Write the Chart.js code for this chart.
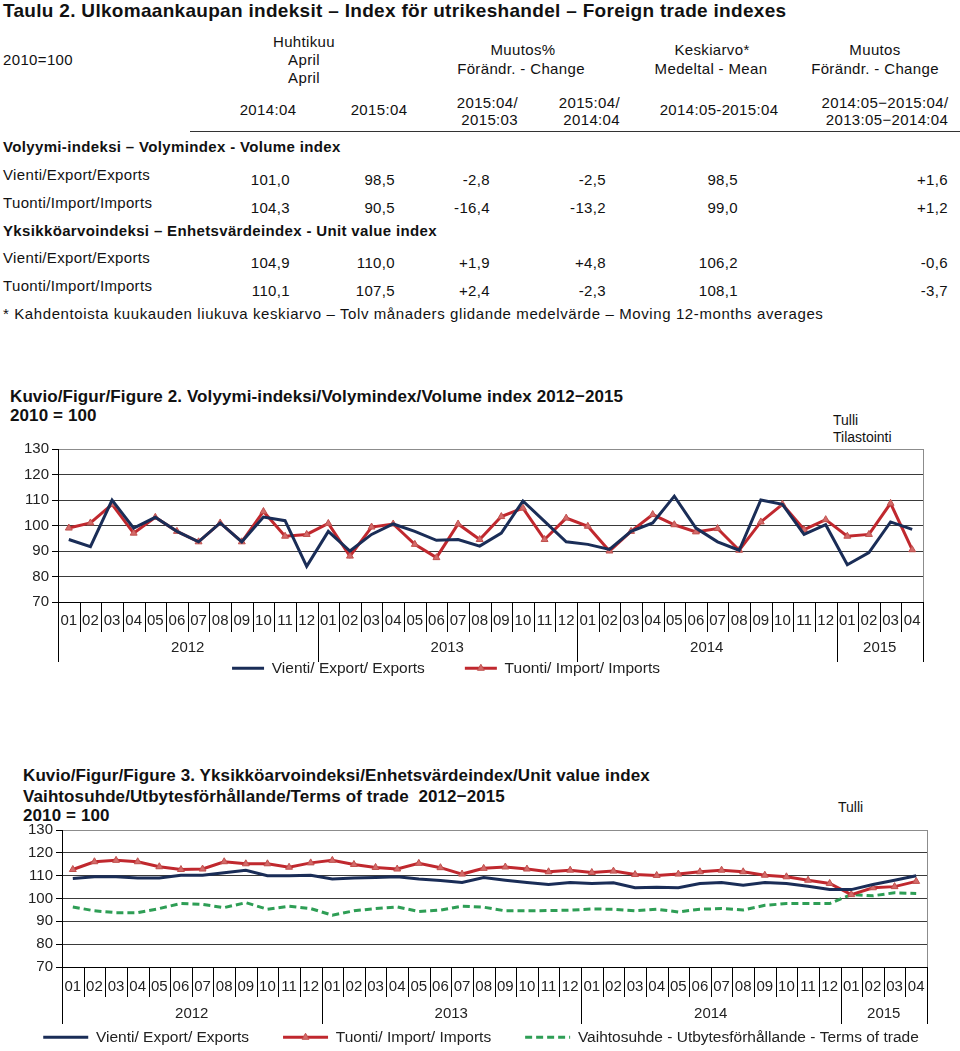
<!DOCTYPE html>
<html>
<head>
<meta charset="utf-8">
<script src="https://cdn.jsdelivr.net/npm/chart.js@4.4.0/dist/chart.umd.min.js"></script>
<style>
body { margin:0; width:960px; height:1051px; position:relative; overflow:hidden; background:#fff;
       font-family:"Liberation Sans", Arial, sans-serif; color:#111; }
.t { position:absolute; white-space:nowrap; font-size:15px; line-height:17px; letter-spacing:0.35px; }
.c { transform:translateX(-50%); text-align:center; }
.r { transform:translateX(-100%); }
.b { font-weight:bold; }
.ft { font-size:17px; line-height:19px; font-weight:bold; letter-spacing:0.1px; }
.tl { font-size:14px; letter-spacing:0; }
canvas { position:absolute; left:0; }
</style>
</head>
<body>

<!-- Table -->
<div class="t b" style="left:3px;top:1px;font-size:19px;line-height:20px;letter-spacing:0.3px">Taulu 2. Ulkomaankaupan indeksit – Index för utrikeshandel – Foreign trade indexes</div>
<div class="t" style="left:3px;top:51px">2010=100</div>
<div class="t c" style="left:304px;top:33px">Huhtikuu</div>
<div class="t c" style="left:304px;top:51px">April</div>
<div class="t c" style="left:304px;top:69px">April</div>
<div class="t c" style="left:268px;top:101px">2014:04</div>
<div class="t c" style="left:379px;top:101px">2015:04</div>
<div class="t c" style="left:523px;top:41px">Muutos%</div>
<div class="t c" style="left:521px;top:60px">Förändr. - Change</div>
<div class="t r" style="left:518px;top:94px">2015:04/</div>
<div class="t r" style="left:518px;top:111px">2015:03</div>
<div class="t r" style="left:620px;top:94px">2015:04/</div>
<div class="t r" style="left:620px;top:111px">2014:04</div>
<div class="t c" style="left:712px;top:41px">Keskiarvo*</div>
<div class="t c" style="left:711px;top:60px">Medeltal - Mean</div>
<div class="t c" style="left:719px;top:101px">2014:05-2015:04</div>
<div class="t c" style="left:875px;top:41px">Muutos</div>
<div class="t c" style="left:875px;top:60px">Förändr. - Change</div>
<div class="t c" style="left:885px;top:94px">2014:05−2015:04/</div>
<div class="t c" style="left:887px;top:111px">2013:05−2014:04</div>
<div style="position:absolute;left:190px;top:131px;width:770px;height:1px;background:#333"></div>
<div class="t b" style="left:3px;top:138px">Volyymi-indeksi – Volymindex - Volume index</div>
<div id="rows"></div>
<div class="t b" style="left:3px;top:222px">Yksikköarvoindeksi – Enhetsvärdeindex - Unit value index</div>
<div class="t" style="left:3px;top:305px;letter-spacing:0.6px">* Kahdentoista kuukauden liukuva keskiarvo – Tolv månaders glidande medelvärde – Moving 12-months averages</div>

<!-- Figure 2 -->
<div class="t ft" style="left:10px;top:387px">Kuvio/Figur/Figure 2. Volyymi-indeksi/Volymindex/Volume index 2012−2015</div>
<div class="t ft" style="left:10px;top:406px">2010 = 100</div>
<div class="t tl" style="left:833px;top:412px">Tulli</div>
<div class="t tl" style="left:833px;top:429px">Tilastointi</div>
<canvas id="fig2" width="960" height="249" style="top:437px"></canvas>

<!-- Figure 3 -->
<div class="t ft" style="left:23px;top:766px">Kuvio/Figur/Figure 3. Yksikköarvoindeksi/Enhetsvärdeindex/Unit value index</div>
<div class="t ft" style="left:23px;top:787px">Vaihtosuhde/Utbytesförhållande/Terms of trade&nbsp; 2012−2015</div>
<div class="t ft" style="left:23px;top:806px">2010 = 100</div>
<div class="t tl" style="left:838px;top:799px">Tulli</div>
<canvas id="fig3" width="960" height="237" style="top:818px"></canvas>

<script>
// Table values
const tableRows = [
    ['Vienti/Export/Exports', '101,0', '98,5', '-2,8', '-2,5', '98,5', '+1,6'],
    ['Tuonti/Import/Imports', '104,3', '90,5', '-16,4', '-13,2', '99,0', '+1,2'],
    ['Vienti/Export/Exports', '104,9', '110,0', '+1,9', '+4,8', '106,2', '-0,6'],
    ['Tuonti/Import/Imports', '110,1', '107,5', '+2,4', '-2,3', '108,1', '-3,7']
];
const rowLabelY = [166, 194, 249, 277];
const colRight = [290, 395, 490, 606, 738, 948];

// Chart categories
const years = ['2012', '2013', '2014', '2015'];
const monthsInYear = [12, 12, 12, 4];

// Volume index
const volExport = [94.5, 91.7, 110, 99, 103.2, 97.7, 93.6, 101, 93.6, 103.3, 101.9, 84,
    97.7, 90, 96.5, 100.6, 97.7, 94.2, 94.5, 91.9, 97, 109.6, 101.6, 93.6,
    92.6, 90.6, 97.7, 101, 111.5, 99, 93.6, 90.3, 110, 108.3, 96.5, 100.3,
    84.6, 89.4, 101.4, 98.5];
const volImport = [99, 101, 108.3, 97, 103.2, 97.7, 93.6, 101, 93.6, 105.5, 95.8, 96.5,
    100.8, 88, 99.4, 100.6, 92.6, 87.4, 100.6, 94.5, 103.5, 106.8, 94.5, 102.9,
    99.7, 90, 97.7, 104.3, 100.3, 97.5, 98.8, 90.3, 101.4, 108.3, 98.4, 102.3,
    95.8, 96.5, 108.7, 90.5];

// Unit value index and terms of trade
const uvExport = [108.8, 109.5, 109.5, 109, 109, 110.2, 110.2, 111.3, 112.4, 110, 110, 110.2,
    108.5, 109, 109.2, 109.5, 108.5, 107.9, 107, 109.2, 108, 107, 106.1, 107,
    106.6, 106.9, 104.7, 104.9, 104.7, 106.6, 107, 105.8, 107, 106.6, 105.4, 103.9,
    103.9, 106.1, 108, 110];
const uvImport = [112.7, 116.1, 116.7, 116.1, 113.9, 112.7, 112.9, 116.1, 115.2, 115.2, 113.7, 115.6,
    116.7, 114.9, 113.6, 112.9, 115.4, 113.5, 110.7, 113.2, 113.8, 112.9, 111.7, 112.4,
    111.4, 112, 110.5, 110.1, 110.7, 111.7, 112.4, 111.7, 110.2, 109.5, 108, 106.6,
    101.7, 104.7, 105.2, 107.5];
const termsOfTrade = [96.3, 94.6, 93.8, 93.8, 95.6, 97.8, 97.4, 96, 98.2, 95.3, 96.6, 95.6,
    92.7, 94.6, 95.6, 96.3, 94.3, 94.9, 96.6, 96.2, 94.6, 94.6, 94.7, 94.9,
    95.4, 95.3, 94.6, 95.3, 94.1, 95.3, 95.6, 95, 97, 97.8, 97.8, 97.8,
    101.7, 101.2, 102.5, 102.2];

const yTicks = [70, 80, 90, 100, 110, 120, 130];

const NAVY = '#1a2d57';
const RED = '#c0282e';
const GREEN = '#2e9e55';

// Build month labels 01..12 per year
const monthLabels = [];
years.forEach((y, k) => {
    for (let m = 1; m <= monthsInYear[k]; m++) {
        monthLabels.push(String(m).padStart(2, '0'));
    }
});

/**
 * Render table rows
 */
function buildTable() {
    const box = document.getElementById('rows');
    tableRows.forEach((row, i) => {
        const ly = rowLabelY[i];
        box.insertAdjacentHTML('beforeend', `<div class="t" style="left:3px;top:${ly}px">${row[0]}</div>`);
        row.slice(1).forEach((v, j) => {
            box.insertAdjacentHTML('beforeend',
                `<div class="t r" style="left:${colRight[j]}px;top:${ly + 5}px">${v}</div>`);
        });
    });
}
buildTable();

Chart.defaults.font.family = '"Liberation Sans", Arial, sans-serif';
Chart.defaults.color = '#222';

/**
 * Month separators, year row, right border, legend placement
 */
const monthAxisPlugin = {
    id: 'monthAxis',
    afterLayout(chart, args, opts) {
        // the month labels sit partly over the legend box; give them room so they are not clipped
        const xs = chart.scales.x;
        xs.bottom = Math.max(xs.bottom, xs.top + 34);

        // move legend so its items are centred where the original has them
        const lg = chart.legend;
        if (!lg || !lg.lineWidths) return;
        const pad = lg.options.labels.padding;
        const content = lg.lineWidths[0] - pad;
        const start = (lg.left + pad + lg.right - lg.lineWidths[0]) / 2;
        const dx = (opts.legendCenter - content / 2) - start;
        lg.left += dx;
        lg.right += dx;
    },
    afterDraw(chart, args, opts) {
        const x = chart.scales.x;
        const area = chart.chartArea;
        const ctx = chart.ctx;
        const base = area.bottom;
        ctx.save();
        // right border
        ctx.strokeStyle = '#8c8c8c';
        ctx.lineWidth = 1;
        ctx.beginPath();
        ctx.moveTo(Math.round(area.right) + 0.5, area.top);
        ctx.lineTo(Math.round(area.right) + 0.5, area.bottom);
        ctx.stroke();

        ctx.strokeStyle = '#000';
        const yearStarts = [];
        let s = 0;
        monthsInYear.forEach(n => { yearStarts.push(s); s += n; });
        for (let i = 0; i <= monthLabels.length; i++) {
            const px = Math.round(x.getPixelForValue(i - 0.5)) + 0.5;
            const isYear = i === monthLabels.length || yearStarts.includes(i);
            ctx.beginPath();
            ctx.moveTo(px, base);
            ctx.lineTo(px, base + (isYear ? opts.long : opts.short));
            ctx.stroke();
        }
        ctx.fillStyle = '#222';
        ctx.font = '15px "Liberation Sans", Arial, sans-serif';
        ctx.textAlign = 'center';
        ctx.textBaseline = 'middle';
        years.forEach((yr, k) => {
            const a = x.getPixelForValue(yearStarts[k] - 0.5);
            const b = x.getPixelForValue(yearStarts[k] + monthsInYear[k] - 0.5);
            ctx.fillText(yr, (a + b) / 2, base + opts.yearY);
        });

        // triangle marker on the import legend line
        const lg = chart.legend;
        lg.legendItems.forEach((item, i) => {
            const ds = chart.data.datasets[item.datasetIndex];
            if (ds.pointStyle !== 'triangle') return;
            const hb = lg.legendHitBoxes[i];
            const size = lg.options.labels.font.size;
            ctx.fillStyle = ds.pointBackgroundColor;
            ctx.strokeStyle = ds.pointBorderColor;
            ctx.lineWidth = 1;
            Chart.helpers.drawPoint(ctx, { pointStyle: 'triangle', radius: 4, borderWidth: 1 },
                hb.left + lg.options.labels.pointStyleWidth / 2, hb.top + size / 2);
        });
        ctx.restore();
    }
};

function legendLabels(chart) {
    const items = Chart.defaults.plugins.legend.labels.generateLabels(chart);
    items.forEach(it => {
        const ds = chart.data.datasets[it.datasetIndex];
        it.pointStyle = 'line';
        it.lineWidth = ds.borderWidth;
        it.strokeStyle = ds.borderColor;
        it.lineDash = ds.borderDash || [];
    });
    return items;
}

function makeChart(id, datasets, cfg) {
    return new Chart(document.getElementById(id), {
        type: 'line',
        data: { labels: monthLabels, datasets: datasets },
        options: {
            responsive: false,
            animation: false,
            layout: { padding: { top: 10, right: 0, left: 0, bottom: 0 } },
            plugins: {
                legend: {
                    position: 'bottom',
                    labels: {
                        color: '#222',
                        font: { size: 15.5 },
                        usePointStyle: true,
                        pointStyleWidth: cfg.legendLine,
                        padding: cfg.legendGap,
                        generateLabels: legendLabels
                    }
                },
                tooltip: { enabled: false },
                monthAxis: cfg.axis
            },
            scales: {
                x: {
                    offset: true,
                    grid: { display: false, drawTicks: false },
                    border: { color: '#000' },
                    ticks: { font: { size: 15 }, color: '#222', padding: cfg.labelPad, maxRotation: 0, autoSkip: false },
                    afterFit(s) { s.height = cfg.xHeight; }
                },
                y: {
                    min: 70,
                    max: 130,
                    afterBuildTicks(s) { s.ticks = yTicks.map(v => ({ value: v })); },
                    ticks: { font: { size: 15 }, color: '#222', padding: 3 },
                    grid: {
                        color: c => (c.tick && c.tick.value === 130 ? '#8c8c8c' : '#3a3a3a'),
                        tickColor: '#000',
                        tickLength: 6
                    },
                    border: { color: '#000' },
                    afterFit(s) { s.width = cfg.yWidth; }
                },
                // empty right-hand strip, keeps the legend free to use the full width
                yRight: {
                    position: 'right',
                    grid: { display: false, drawTicks: false },
                    border: { display: false },
                    ticks: { display: false },
                    afterFit(s) { s.width = cfg.padRight; }
                }
            }
        },
        plugins: [monthAxisPlugin]
    });
}

const exportStyle = { borderColor: NAVY, backgroundColor: NAVY, borderWidth: 3, pointRadius: 0, tension: 0 };
const importStyle = {
    borderColor: RED, backgroundColor: RED, borderWidth: 3, tension: 0,
    pointStyle: 'triangle', pointRadius: 4, pointBackgroundColor: '#d46a6a', pointBorderColor: '#c0504d', pointBorderWidth: 1
};

makeChart('fig2', [
    Object.assign({ label: 'Vienti/ Export/ Exports', data: volExport }, exportStyle),
    Object.assign({ label: 'Tuonti/ Import/ Imports', data: volImport }, importStyle)
], { padRight: 37, yWidth: 58, xHeight: 18.5, labelPad: 10, legendLine: 32, legendGap: 40,
     axis: { short: 30, long: 60, yearY: 46, legendCenter: 446 } });

makeChart('fig3', [
    Object.assign({ label: 'Vienti/ Export/ Exports', data: uvExport }, exportStyle),
    Object.assign({ label: 'Tuonti/ Import/ Imports', data: uvImport }, importStyle),
    { label: 'Vaihtosuhde - Utbytesförhållande - Terms of trade', data: termsOfTrade,
      borderColor: GREEN, backgroundColor: GREEN, borderWidth: 3, borderDash: [7, 4], pointRadius: 0, tension: 0 }
], { padRight: 33, yWidth: 62, xHeight: 28.5, labelPad: 11, legendLine: 45, legendGap: 34,
     axis: { short: 30, long: 57, yearY: 47, legendCenter: 481 } });
</script>
</body>
</html>
